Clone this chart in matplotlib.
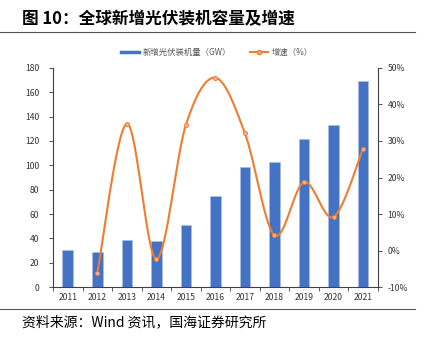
import numpy as np
import matplotlib.pyplot as plt
from matplotlib.lines import Line2D

plt.rcParams['font.family'] = ['Noto Sans CJK SC', 'DejaVu Sans']

years = ['2011', '2012', '2013', '2014', '2015', '2016', '2017', '2018', '2019', '2020', '2021']
capacity = [30.5, 29, 39, 38, 51, 75, 99, 103, 122, 133, 169.5]
growth_years = years[1:]
growth = [-6.2, 34.7, -2.3, 34.4, 47.3, 32.1, 4.2, 18.7, 9.2, 27.9]

blue = '#4472C4'
orange = '#ED7D31'
axc = '#404040'


def catmull(x, y, n=30):
    # smooth line like excel, through the given points
    x = np.asarray(x, float)
    y = np.asarray(y, float)
    px = np.r_[x[0], x, x[-1]]
    py = np.r_[y[0], y, y[-1]]
    xs, ys = [], []
    t = np.linspace(0, 1, n)
    for i in range(1, len(px) - 2):
        for p, out in ((px, xs), (py, ys)):
            p0, p1, p2, p3 = p[i - 1], p[i], p[i + 1], p[i + 2]
            out.extend(0.5 * (2 * p1 + (-p0 + p2) * t + (2 * p0 - 5 * p1 + 4 * p2 - p3) * t ** 2
                              + (-p0 + 3 * p1 - 3 * p2 + p3) * t ** 3))
    return xs, ys


fig = plt.figure(figsize=(4.25, 3.43), dpi=100)
ax = fig.add_axes([0.1247, 0.163, 0.7643, 0.639])
x = np.arange(len(years))
ax.bar(x, capacity, width=0.36, color=blue, edgecolor='#A9BEE6', linewidth=0.5, zorder=2)
ax.set_xlim(-0.5, len(years) - 0.5)
ax.set_ylim(0, 180)
ax.set_yticks(range(0, 181, 20))
ax.set_xticks(x)
ax.set_xticklabels(years)
ax.set_xticks(np.arange(-0.5, len(years), 1), minor=True)
ax.tick_params(axis='x', which='major', length=0, labelsize=6.2, pad=4, colors='#333333')
ax.tick_params(axis='x', which='minor', length=3, width=0.6, color=axc)
ax.tick_params(axis='y', length=3, width=0.6, labelsize=6.2, colors='#333333', pad=7)
for s in ['top', 'right']:
    ax.spines[s].set_visible(False)
for s in ['left', 'bottom']:
    ax.spines[s].set_color(axc)
    ax.spines[s].set_linewidth(0.8)

ax2 = ax.twinx()
gx = x[1:]
sx, sy = catmull(gx, growth)
ax2.plot(sx, sy, color=orange, lw=1.5, zorder=3)
ax2.plot(gx, growth, 'o', ms=3, mfc='#F4B183', mec=orange, mew=0.6, zorder=4)
ax2.set_ylim(-10, 50)
ax2.set_yticks(range(-10, 51, 10))
ax2.set_yticklabels([f'{v}%' for v in range(-10, 51, 10)])
ax2.tick_params(axis='y', length=3, width=0.6, labelsize=6.2, colors='#333333', pad=4)
for s in ['top', 'left', 'bottom']:
    ax2.spines[s].set_visible(False)
ax2.spines['right'].set_color(axc)
ax2.spines['right'].set_linewidth(0.8)

handles = [Line2D([], [], color=blue, lw=2.5),
           Line2D([], [], color=orange, lw=1.5, marker='o', ms=3, mfc='#F4B183', mec=orange)]
fig.legend(handles, ['新增光伏装机量（GW）', '增速（%）'], loc='center', bbox_to_anchor=(0.51, 0.848),
           ncol=2, frameon=False, fontsize=6, labelcolor='#555555',
           handlelength=2.2, columnspacing=2.2, handletextpad=0.4)

fig.text(0.052, 0.945, '图 10：全球新增光伏装机容量及增速', fontsize=12, fontweight='bold', va='center')
fig.add_artist(Line2D([0, 0.976], [0.907, 0.907], color='#555555', lw=0.8))
fig.add_artist(Line2D([0, 0.976], [0.099, 0.099], color='#555555', lw=0.8))
fig.text(0.052, 0.061, '资料来源：Wind 资讯，国海证券研究所', fontsize=10, va='center')

fig.savefig('out.png', dpi=100)
